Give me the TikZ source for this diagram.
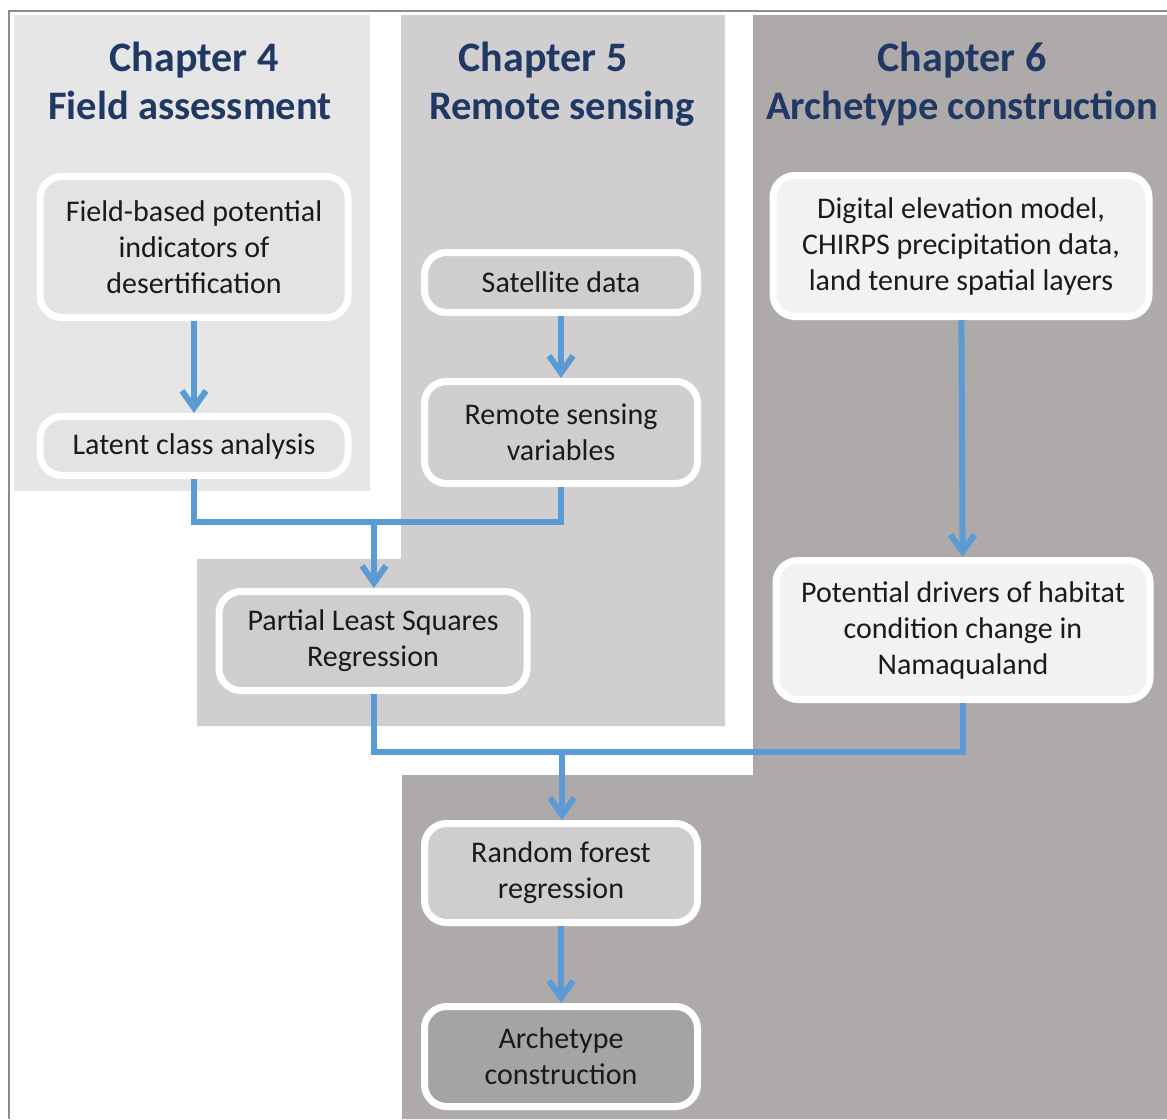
\documentclass[tikz,border=0pt]{standalone}
\usepackage{fontspec}
\setmainfont{Carlito}
\usetikzlibrary{arrows.meta}

\definecolor{panelA}{HTML}{E7E6E6}
\definecolor{panelB}{HTML}{D0CECE}
\definecolor{panelC}{HTML}{AEAAAA}
\definecolor{fillA}{HTML}{E4E3E3}
\definecolor{fillB}{HTML}{CFCDCD}
\definecolor{fillLight}{HTML}{F2F2F2}
\definecolor{fillDark}{HTML}{A6A3A3}
\definecolor{flowblue}{HTML}{5B9BD5}
\definecolor{headblue}{HTML}{1F3864}
\definecolor{bodytext}{HTML}{1A1A1A}
\definecolor{framegray}{HTML}{8C8C8C}

\begin{document}
\begin{tikzpicture}[x=1pt,y=-1pt,
  stepbox/.style={draw=white, line width=7pt, rounded corners=22pt,
    align=center, inner sep=0pt, text=bodytext,
    font=\fontsize{30}{36}\selectfont},
  heading/.style={anchor=base, text=headblue, inner sep=0pt,
    font=\bfseries\fontsize{42}{48}\selectfont},
  subheading/.style={heading, font=\bfseries\fontsize{40.5}{48}\selectfont},
  link/.style={draw=flowblue, line width=6pt},
  flow/.style={link, -{Straight Barb[length=17pt,width=24pt]}}]

\useasboundingbox (0,0) rectangle (1167,1119);

% chapter panels
\fill[panelA] (14,15) rectangle (370,491);
\fill[panelB] (401,15) -- (725,15) -- (725,726) -- (197,726) -- (197,559) -- (401,559) -- cycle;
\fill[panelC] (753,15) -- (1167,15) -- (1167,1119) -- (402,1119) -- (402,775) -- (753,775) -- cycle;

% outer frame
\draw[framegray, line width=1.6pt] (9,1119) -- (9,11) -- (1167,11);

% chapter headings
\node[heading] (h4a) at (194,71) {Chapter 4};
\node[subheading] (h4b) at (190,119) {Field assessment};
\node[heading] (h5a) at (543,71) {Chapter 5};
\node[subheading] (h5b) at (562,119) {Remote sensing};
\node[heading] (h6a) at (962,71) {Chapter 6};
\node[subheading] (h6b) at (962,119) {Archetype construction};

% process steps
\node[stepbox, fill=fillA, minimum width=308pt, minimum height=141pt] (field) at (194,247)
  {Field-based potential\\indicators of\\desertification};
\node[stepbox, fill=fillA, minimum width=308pt, minimum height=59pt] (lca) at (194,446)
  {Latent class analysis};
\node[stepbox, fill=fillB, minimum width=273pt, minimum height=60pt] (sat) at (561,282.5)
  {Satellite data};
\node[stepbox, fill=fillB, minimum width=273pt, minimum height=102pt] (rsv) at (561,432.5)
  {Remote sensing\\variables};
\node[stepbox, fill=fillLight, minimum width=376pt, minimum height=141pt] (dem) at (961,246)
  {Digital elevation model,\\CHIRPS precipitation data,\\land tenure spatial layers};
\node[stepbox, fill=fillLight, minimum width=374pt, minimum height=139pt] (drivers) at (963,630)
  {Potential drivers of habitat\\condition change in\\Namaqualand};
\node[stepbox, fill=fillB, minimum width=308pt, minimum height=99pt] (pls) at (373,641)
  {Partial Least Squares\\Regression};
\node[stepbox, fill=fillB, minimum width=273pt, minimum height=99pt] (rf) at (561,873)
  {Random forest\\regression};
\node[stepbox, fill=fillDark, minimum width=273pt, minimum height=100pt] (arch) at (561,1056.5)
  {Archetype\\construction};

% junction points of the merging connectors
\coordinate (j1) at (374,522);
\coordinate (j2) at (562,752);

% connectors
\draw[flow] (field) -- (lca);
\draw[flow] (sat) -- (rsv);
\draw[flow] (dem) -- (drivers);
\draw[link] (lca.south) |- (j1);
\draw[link] (rsv.south) |- (j1);
\draw[flow] (j1) -- (j1 |- pls.north);
\draw[link] (pls.south -| j1) |- (j2);
\draw[link] (drivers.south) |- (j2);
\draw[flow] (j2) -- (j2 |- rf.north);
\draw[flow] (rf) -- (arch);
\end{tikzpicture}
\end{document}
